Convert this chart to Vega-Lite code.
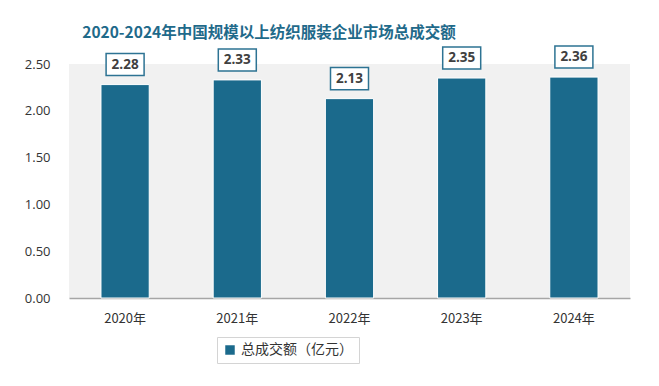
{
  "$schema": "https://vega.github.io/schema/vega-lite/v6.json",
  "width": 561,
  "height": 234,
  "autosize": {"type": "none"},
  "padding": {"left": 69, "top": 64, "right": 29, "bottom": 88},
  "background": "white",
  "title": {
    "text": "2020-2024年中国规模以上纺织服装企业市场总成交额",
    "font": "Noto Sans CJK SC",
    "fontSize": 15.5,
    "fontWeight": "bold",
    "color": "#1f6a8a",
    "anchor": "start",
    "dx": 58,
    "offset": 2
  },
  "data": {
    "values": [
      {"year": "2020年", "value": 2.28, "series": "总成交额（亿元）"},
      {"year": "2021年", "value": 2.33, "series": "总成交额（亿元）"},
      {"year": "2022年", "value": 2.13, "series": "总成交额（亿元）"},
      {"year": "2023年", "value": 2.35, "series": "总成交额（亿元）"},
      {"year": "2024年", "value": 2.36, "series": "总成交额（亿元）"}
    ]
  },
  "config": {
    "view": {"stroke": null, "fill": "#f1f1f1"},
    "font": "Open Sans"
  },
  "encoding": {
    "x": {
      "field": "year",
      "type": "nominal",
      "sort": null,
      "scale": {"paddingInner": 0.57, "paddingOuter": 0.285},
      "axis": {
        "title": null,
        "labelAngle": 0,
        "ticks": false,
        "domainColor": "#a6a6a6",
        "domainWidth": 1.5,
        "labelPadding": 14,
        "labelFontSize": 13,
        "labelColor": "#333333",
        "labelFont": "Noto Sans CJK SC"
      }
    },
    "y": {
      "field": "value",
      "type": "quantitative",
      "scale": {"domain": [0, 2.5], "nice": false},
      "axis": {
        "title": null,
        "values": [0, 0.5, 1, 1.5, 2, 2.5],
        "format": ".2f",
        "grid": false,
        "domain": false,
        "ticks": false,
        "labelPadding": 19,
        "labelFontSize": 13,
        "labelColor": "#333333"
      }
    }
  },
  "layer": [
    {
      "mark": {"type": "bar", "stroke": "white", "strokeWidth": 1},
      "encoding": {
        "color": {
          "field": "series",
          "type": "nominal",
          "scale": {"range": ["#1b6a8c"]},
          "legend": {
            "title": null,
            "orient": "none",
            "legendX": 148,
            "legendY": 273,
            "direction": "horizontal",
            "symbolType": "square",
            "symbolSize": 90,
            "symbolStrokeWidth": 0,
            "labelFontSize": 14,
            "labelColor": "#333333",
            "labelFont": "Noto Sans CJK SC",
            "padding": 6,
            "strokeColor": "#d4d4d4",
            "fillColor": "white"
          }
        }
      }
    },
    {
      "mark": {
        "type": "point",
        "shape": "M-1,-0.58H1V0.58H-1Z",
        "size": 1444,
        "filled": true,
        "fill": "white",
        "stroke": "#2d7393",
        "strokeWidth": 1.5,
        "opacity": 1,
        "yOffset": -20
      }
    },
    {
      "mark": {
        "type": "text",
        "fontSize": 13.5,
        "fontWeight": "bold",
        "color": "#404040",
        "baseline": "middle",
        "yOffset": -20
      },
      "encoding": {
        "text": {"field": "value", "type": "quantitative", "format": ".2f"}
      }
    }
  ]
}
